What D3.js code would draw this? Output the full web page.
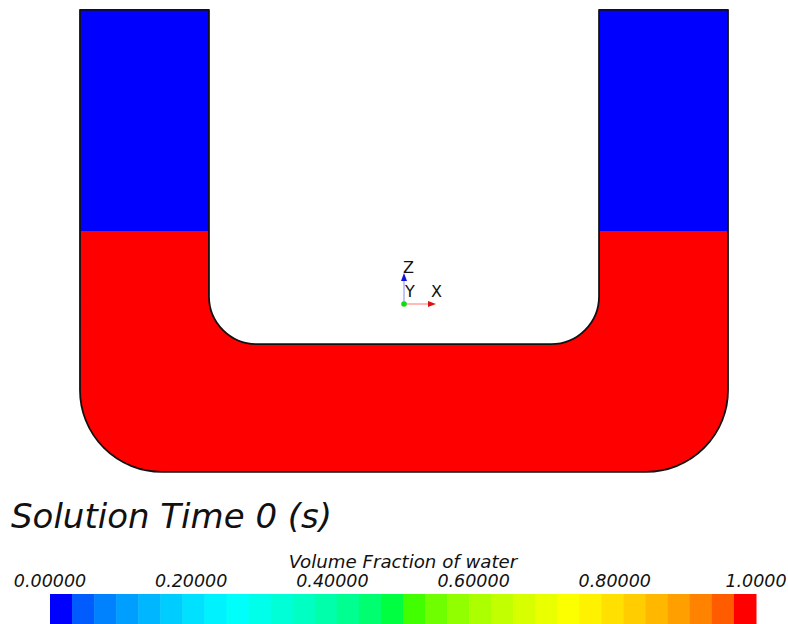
<!DOCTYPE html>
<html>
<head>
<meta charset="utf-8">
<script src="https://cdn.jsdelivr.net/npm/d3@7"></script>
<style>
  html, body { margin: 0; padding: 0; background: #fff; overflow: hidden; }
  svg { display: block; }
  text { font-family: "DejaVu Sans", Verdana, sans-serif; }
</style>
</head>
<body>
<svg id="chart" width="788" height="624"></svg>
<script>
// U-tube geometry (metres, origin at the coordinate triad)
const tubeOuterHalf = 0.5;      // outer wall half-width
const tubeInnerHalf = 0.301;    // inner wall half-width
const tubeTop = 0.454;          // top of both arms
const tubeBottom = -0.259;      // outer bottom
const innerBottom = -0.062;     // inner bottom
const outerRadius = 0.126;      // outer bend radius
const innerRadius = 0.074;      // inner bend radius
const waterLevel = 0.113;       // water/air interface in both arms

// Phase values shown in the field
const airFraction = 0;
const waterFraction = 1;

// Colour legend
const legendTitle = "Volume Fraction of water";
const legendBands = 32;
const tickValues = [0, 0.2, 0.4, 0.6, 0.8, 1.0];
const tickLabels = ["0.00000", "0.20000", "0.40000", "0.60000", "0.80000", "1.0000"];
const timeLabel = "Solution Time 0 (s)";

// Rainbow colour map: blue -> cyan -> green -> yellow -> red, square-root ramps per segment
function rainbow(t) {
  t = Math.max(0, Math.min(1, t));
  const seg = Math.min(3, Math.floor(t * 4));
  const u = (t - seg * 0.25) / 0.25;
  const up = Math.round(255 * Math.sqrt(u));
  const down = Math.round(255 * Math.sqrt(1 - u));
  if (seg === 0) return `rgb(0,${up},255)`;
  if (seg === 1) return `rgb(0,255,${down})`;
  if (seg === 2) return `rgb(${up},255,0)`;
  return `rgb(255,${down},0)`;
}
const bandColor = i => rainbow(i / (legendBands - 1));

const svg = d3.select("#chart");

// Model-space scales (equal aspect)
const pxPerM = 648;
const x = d3.scaleLinear().domain([-0.5, 0.5]).range([404 - 0.5 * pxPerM, 404 + 0.5 * pxPerM]);
const z = d3.scaleLinear().domain([0, 1]).range([304, 304 - pxPerM]);

// Outline of the U-tube
function tubePath() {
  const p = d3.path();
  const ro = outerRadius * pxPerM, ri = innerRadius * pxPerM;
  p.moveTo(x(-tubeOuterHalf), z(tubeTop));
  p.lineTo(x(-tubeInnerHalf), z(tubeTop));
  p.lineTo(x(-tubeInnerHalf), z(innerBottom) - ri);
  p.arcTo(x(-tubeInnerHalf), z(innerBottom), x(-tubeInnerHalf) + ri, z(innerBottom), ri);
  p.lineTo(x(tubeInnerHalf) - ri, z(innerBottom));
  p.arcTo(x(tubeInnerHalf), z(innerBottom), x(tubeInnerHalf), z(innerBottom) - ri, ri);
  p.lineTo(x(tubeInnerHalf), z(tubeTop));
  p.lineTo(x(tubeOuterHalf), z(tubeTop));
  p.lineTo(x(tubeOuterHalf), z(tubeBottom) - ro);
  p.arcTo(x(tubeOuterHalf), z(tubeBottom), x(tubeOuterHalf) - ro, z(tubeBottom), ro);
  p.lineTo(x(-tubeOuterHalf) + ro, z(tubeBottom));
  p.arcTo(x(-tubeOuterHalf), z(tubeBottom), x(-tubeOuterHalf), z(tubeBottom) - ro, ro);
  p.closePath();
  return p.toString();
}

const defs = svg.append("defs");
defs.append("clipPath").attr("id", "tube-clip")
  .append("path").attr("d", tubePath());

// Field: water below the interface, air above it
const levelPx = Math.round(z(waterLevel));
const field = svg.append("g").attr("clip-path", "url(#tube-clip)");
field.append("rect")
  .attr("x", x(-tubeOuterHalf) - 2).attr("y", levelPx)
  .attr("width", x(tubeOuterHalf) - x(-tubeOuterHalf) + 4)
  .attr("height", z(tubeBottom) - levelPx + 2)
  .attr("fill", rainbow(waterFraction))
  .attr("shape-rendering", "crispEdges");
field.append("rect")
  .attr("x", x(-tubeOuterHalf) - 2).attr("y", z(tubeTop) - 2)
  .attr("width", x(tubeOuterHalf) - x(-tubeOuterHalf) + 4)
  .attr("height", levelPx - z(tubeTop) + 2)
  .attr("fill", rainbow(airFraction))
  .attr("shape-rendering", "crispEdges");

svg.append("path")
  .attr("d", tubePath())
  .attr("fill", "none")
  .attr("stroke", "#111")
  .attr("stroke-width", 1.8)
  .attr("stroke-linejoin", "round");

// Coordinate triad
const triad = svg.append("g").attr("transform", `translate(${x(0)},${z(0)})`);
triad.append("line").attr("x1", 0).attr("y1", 0).attr("x2", 0).attr("y2", -26)
  .attr("stroke", "#9a9aff").attr("stroke-width", 1.2);
triad.append("path").attr("d", "M0,-31L-3,-23L3,-23Z").attr("fill", "#1010e0");
triad.append("line").attr("x1", 0).attr("y1", 0).attr("x2", 26).attr("y2", 0)
  .attr("stroke", "#ff8a8a").attr("stroke-width", 1.2);
triad.append("path").attr("d", "M32,0L24,-3L24,3Z").attr("fill", "#e01010");
triad.append("circle").attr("r", 2.8).attr("fill", "#10dd10");
[["Z", -1, -31], ["Y", 1, -7], ["X", 27, -7]].forEach(([t, dx, dy]) => {
  triad.append("text").attr("x", dx).attr("y", dy)
    .attr("font-size", "16px").attr("fill", "#111")
    .text(t);
});

// Solution time
svg.append("text")
  .attr("x", 11).attr("y", 528)
  .attr("font-size", "34px").attr("font-style", "italic")
  .attr("fill", "#111")
  .text(timeLabel);

// Colour legend
const cx = d3.scaleLinear().domain([0, 1]).range([50, 756]);
const bandW = (cx(1) - cx(0)) / legendBands;
svg.append("g").selectAll("rect")
  .data(d3.range(legendBands))
  .join("rect")
  .attr("x", i => cx(0) + i * bandW)
  .attr("y", 594)
  .attr("width", bandW + 0.5)
  .attr("height", 40)
  .attr("fill", bandColor);

svg.append("text")
  .attr("x", (cx(0) + cx(1)) / 2).attr("y", 568)
  .attr("text-anchor", "middle")
  .attr("font-size", "18.2px").attr("font-style", "italic")
  .attr("fill", "#111")
  .text(legendTitle);

svg.append("g").selectAll("text")
  .data(tickValues)
  .join("text")
  .attr("x", d => cx(d)).attr("y", 587)
  .attr("text-anchor", "middle")
  .attr("font-size", "17.5px").attr("font-style", "italic")
  .attr("fill", "#111")
  .text((d, i) => tickLabels[i]);
</script>
</body>
</html>
